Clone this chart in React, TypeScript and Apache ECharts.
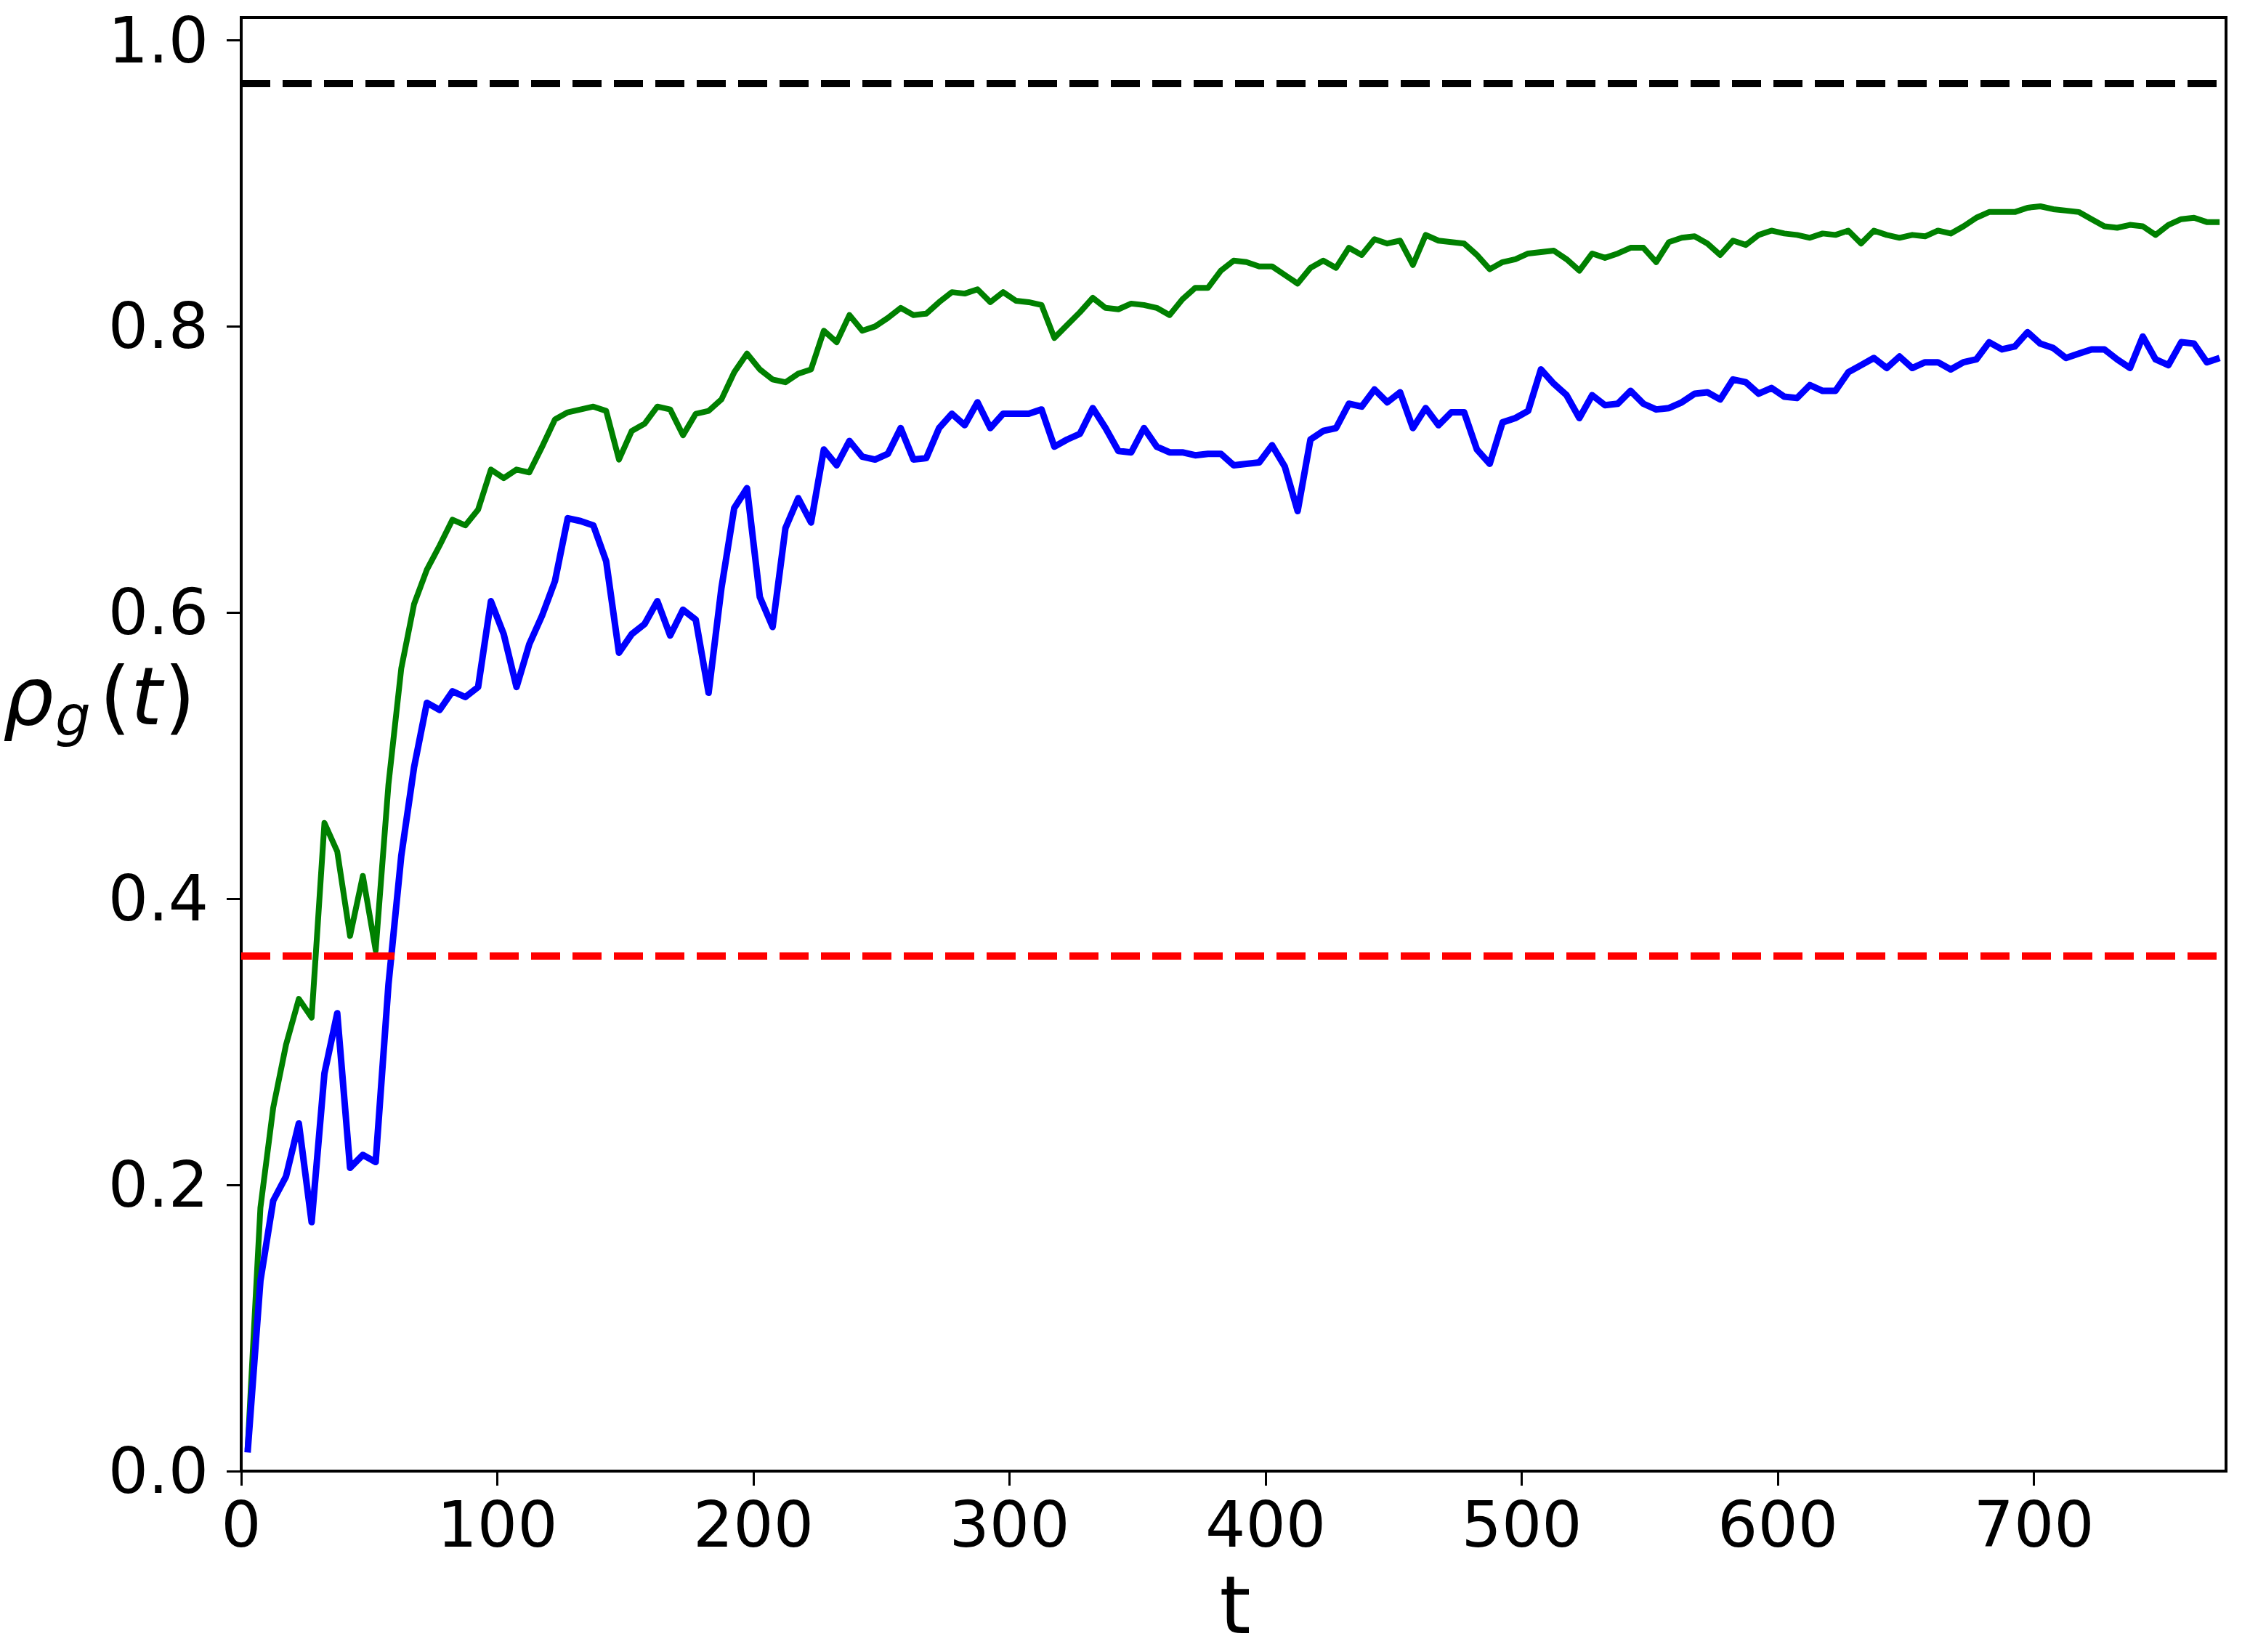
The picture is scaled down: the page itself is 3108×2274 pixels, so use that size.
import React, { useEffect, useRef } from "react";
import * as echarts from "echarts";

// sampling times (t)
const tValues = [
  2.5, 7.5, 12.5, 17.5, 22.5, 27.5, 32.5, 37.5, 42.5, 47.5,
  52.5, 57.5, 62.5, 67.5, 72.5, 77.5, 82.5, 87.5, 92.5, 97.5,
  102.5, 107.5, 112.5, 117.5, 122.5, 127.5, 132.5, 137.5, 142.5, 147.5,
  152.5, 157.5, 162.5, 167.5, 172.5, 177.5, 182.5, 187.5, 192.5, 197.5,
  202.5, 207.5, 212.5, 217.5, 222.5, 227.5, 232.5, 237.5, 242.5, 247.5,
  252.5, 257.5, 262.5, 267.5, 272.5, 277.5, 282.5, 287.5, 292.5, 297.5,
  302.5, 307.5, 312.5, 317.5, 322.5, 327.5, 332.5, 337.5, 342.5, 347.5,
  352.5, 357.5, 362.5, 367.5, 372.5, 377.5, 382.5, 387.5, 392.5, 397.5,
  402.5, 407.5, 412.5, 417.5, 422.5, 427.5, 432.5, 437.5, 442.5, 447.5,
  452.5, 457.5, 462.5, 467.5, 472.5, 477.5, 482.5, 487.5, 492.5, 497.5,
  502.5, 507.5, 512.5, 517.5, 522.5, 527.5, 532.5, 537.5, 542.5, 547.5,
  552.5, 557.5, 562.5, 567.5, 572.5, 577.5, 582.5, 587.5, 592.5, 597.5,
  602.5, 607.5, 612.5, 617.5, 622.5, 627.5, 632.5, 637.5, 642.5, 647.5,
  652.5, 657.5, 662.5, 667.5, 672.5, 677.5, 682.5, 687.5, 692.5, 697.5,
  702.5, 707.5, 712.5, 717.5, 722.5, 727.5, 732.5, 737.5, 742.5, 747.5,
  752.5, 757.5, 762.5, 767.5, 772.5,
];

const greenValues = [
  0.015, 0.184, 0.254, 0.298, 0.330, 0.317, 0.453, 0.433, 0.374, 0.416,
  0.364, 0.480, 0.561, 0.606, 0.630, 0.647, 0.665, 0.661, 0.672, 0.700,
  0.694, 0.700, 0.698, 0.716, 0.735, 0.740, 0.742, 0.744, 0.741, 0.707,
  0.727, 0.732, 0.744, 0.742, 0.724, 0.739, 0.741, 0.749, 0.768, 0.781,
  0.770, 0.763, 0.761, 0.767, 0.770, 0.797, 0.789, 0.808, 0.797, 0.800,
  0.806, 0.813, 0.808, 0.809, 0.817, 0.824, 0.823, 0.826, 0.817, 0.824,
  0.818, 0.817, 0.815, 0.792, 0.801, 0.810, 0.820, 0.813, 0.812, 0.816,
  0.815, 0.813, 0.808, 0.819, 0.827, 0.827, 0.839, 0.846, 0.845, 0.842,
  0.842, 0.836, 0.830, 0.841, 0.846, 0.841, 0.855, 0.850, 0.861, 0.858,
  0.860, 0.843, 0.864, 0.860, 0.859, 0.858, 0.850, 0.840, 0.845, 0.847,
  0.851, 0.852, 0.853, 0.847, 0.839, 0.851, 0.848, 0.851, 0.855, 0.855,
  0.845, 0.859, 0.862, 0.863, 0.858, 0.850, 0.860, 0.857, 0.864, 0.867,
  0.865, 0.864, 0.862, 0.865, 0.864, 0.867, 0.858, 0.867, 0.864, 0.862,
  0.864, 0.863, 0.867, 0.865, 0.870, 0.876, 0.880, 0.880, 0.880, 0.883,
  0.884, 0.882, 0.881, 0.880, 0.875, 0.870, 0.869, 0.871, 0.870, 0.864,
  0.871, 0.875, 0.876, 0.873, 0.873,
];

const blueValues = [
  0.013, 0.133, 0.189, 0.206, 0.243, 0.174, 0.278, 0.320, 0.212, 0.221,
  0.216, 0.340, 0.430, 0.492, 0.537, 0.532, 0.545, 0.541, 0.548, 0.608,
  0.585, 0.548, 0.578, 0.598, 0.622, 0.666, 0.664, 0.661, 0.636, 0.572,
  0.585, 0.592, 0.608, 0.584, 0.602, 0.595, 0.544, 0.617, 0.673, 0.687,
  0.611, 0.590, 0.659, 0.680, 0.663, 0.714, 0.703, 0.720, 0.709, 0.707,
  0.711, 0.729, 0.707, 0.708, 0.729, 0.739, 0.731, 0.747, 0.729, 0.739,
  0.739, 0.739, 0.742, 0.716, 0.721, 0.725, 0.743, 0.729, 0.713, 0.712,
  0.729, 0.716, 0.712, 0.712, 0.710, 0.711, 0.711, 0.703, 0.704, 0.705,
  0.717, 0.702, 0.671, 0.721, 0.727, 0.729, 0.746, 0.744, 0.756, 0.747,
  0.754, 0.729, 0.743, 0.731, 0.740, 0.740, 0.714, 0.704, 0.733, 0.736,
  0.741, 0.770, 0.760, 0.752, 0.736, 0.752, 0.745, 0.746, 0.755, 0.746,
  0.742, 0.743, 0.747, 0.753, 0.754, 0.749, 0.763, 0.761, 0.753, 0.757,
  0.751, 0.750, 0.759, 0.755, 0.755, 0.768, 0.773, 0.778, 0.771, 0.779,
  0.771, 0.775, 0.775, 0.770, 0.775, 0.777, 0.789, 0.784, 0.786, 0.796,
  0.788, 0.785, 0.778, 0.781, 0.784, 0.784, 0.777, 0.771, 0.793, 0.777,
  0.773, 0.789, 0.788, 0.775, 0.778,
];

const blackRef = 0.967;
const redRef = 0.359;

const xTicks = [0, 100, 200, 300, 400, 500, 600, 700];
const yTicks = [0, 0.2, 0.4, 0.6, 0.8, 1.0];
const xMax = 775;
const yMax = 1.016;

export default function App() {
  const ref = useRef<HTMLDivElement>(null);

  useEffect(() => {
    const chart = echarts.init(ref.current!, null, { renderer: "svg" });
    const font = "DejaVu Sans";
    const tickFont = 87;
    const labelFont = 110;
    const dash = [40, 17];

    const green = tValues.map((t, i) => [t, greenValues[i]]);
    const blue = tValues.map((t, i) => [t, blueValues[i]]);

    const labelPart = (text: string, x: number, y: number, size: number, italic: boolean) => ({
      type: "text",
      x,
      y,
      style: {
        text,
        fontSize: size,
        fontFamily: font,
        fontStyle: italic ? "italic" : "normal",
        lineHeight: Math.round(size * 0.85),
        fill: "#000",
        align: "left",
        verticalAlign: "middle",
      },
    });

    const labelY = 959;

    chart.setOption({
      animation: false,
      backgroundColor: "#ffffff",
      grid: {
        left: 332,
        top: 24,
        width: 2732,
        height: 2001,
        show: true,
        borderColor: "#000000",
        borderWidth: 4,
        backgroundColor: "transparent",
        containLabel: false,
        outerBoundsMode: "none",
      },
      xAxis: {
        type: "value",
        min: 0,
        max: xMax,
        splitLine: { show: false },
        axisLine: { show: true, onZero: false, lineStyle: { color: "#000", width: 4 } },
        axisTick: {
          show: true,
          customValues: xTicks,
          length: 20,
          inside: false,
          lineStyle: { color: "#000", width: 3 },
        },
        axisLabel: {
          customValues: xTicks,
          formatter: (v: number) => String(Math.round(v)),
          fontSize: tickFont,
          fontFamily: font,
          color: "#000",
          margin: 30,
        },
      },
      yAxis: {
        type: "value",
        min: 0,
        max: yMax,
        splitLine: { show: false },
        axisLine: { show: true, onZero: false, lineStyle: { color: "#000", width: 4 } },
        axisTick: {
          show: true,
          customValues: yTicks,
          length: 20,
          inside: false,
          lineStyle: { color: "#000", width: 3 },
        },
        axisLabel: {
          customValues: yTicks,
          formatter: (v: number) => v.toFixed(1),
          fontSize: tickFont,
          fontFamily: font,
          lineHeight: 74,
          color: "#000",
          margin: 45,
        },
      },
      series: [
        {
          type: "line",
          data: green,
          showSymbol: false,
          symbol: "none",
          lineStyle: { color: "#008000", width: 8, join: "round" },
          z: 2,
        },
        {
          type: "line",
          data: blue,
          showSymbol: false,
          symbol: "none",
          lineStyle: { color: "#0000ff", width: 9, join: "round" },
          z: 3,
          markLine: {
            silent: true,
            symbol: ["none", "none"],
            label: { show: false },
            animation: false,
            data: [
              { yAxis: blackRef, lineStyle: { color: "#000000", width: 10, type: dash } },
              { yAxis: redRef, lineStyle: { color: "#ff0000", width: 10, type: dash } },
            ],
          },
        },
      ],
      graphic: [
        labelPart("ρ", 4, labelY, labelFont, true),
        labelPart("g", 76, labelY + 26, 77, true),
        labelPart("(", 137, labelY, labelFont, false),
        labelPart("t", 180, labelY, labelFont, true),
        labelPart(")", 226, labelY, labelFont, false),
        {
          type: "text",
          x: 1700,
          y: 2210,
          style: { text: "t", fontSize: labelFont, fontFamily: font, lineHeight: 110, fill: "#000", align: "center", verticalAlign: "middle" },
        },
      ],
    });

    return () => chart.dispose();
  }, []);

  return (
    <div
      ref={ref}
      style={{ position: "fixed", left: 0, top: 0, width: 3108, height: 2274, background: "#ffffff" }}
    />
  );
}
